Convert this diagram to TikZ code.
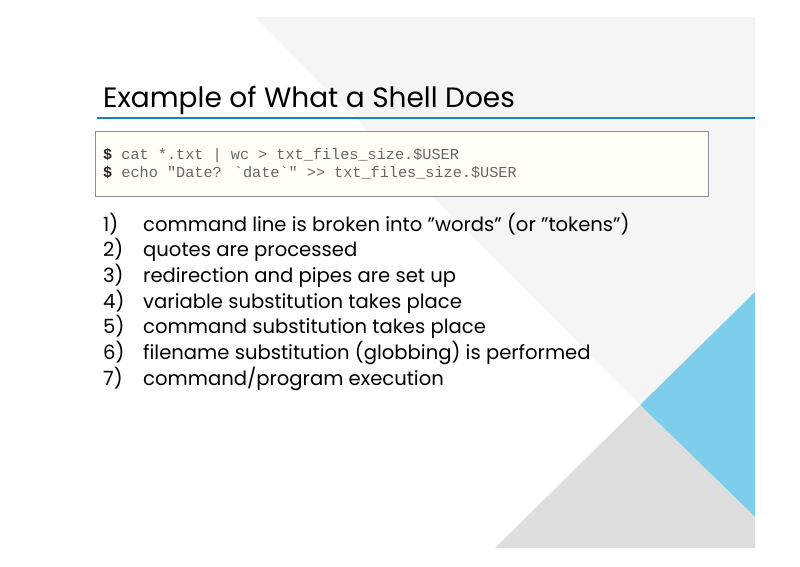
\documentclass[tikz,border=0pt]{standalone}
\usepackage{fontspec}
\setmainfont{Poppins}
\newfontfamily\codefont{Liberation Mono}
\definecolor{lineblue}{RGB}{20,130,190}
\definecolor{triblue}{RGB}{125,206,235}
\definecolor{codebg}{RGB}{255,255,248}
\newcommand{\dq}{\symbol{34}}
\begin{document}
\begin{tikzpicture}[x=1pt,y=-1pt,
  item/.style={anchor=base west,inner sep=0pt,font=\fontsize{19.6}{21}\selectfont},
  code/.style={anchor=base west,inner sep=0pt,font=\codefont\fontsize{15.2}{17}\selectfont,text=black!60}]
\useasboundingbox (0,0) rectangle (800,566);
\fill[white] (0,0) rectangle (800,566);
\fill[black!4] (255,17) -- (755,17) -- (755,292) -- (640,405) -- cycle;
\fill[triblue] (755,292) -- (640,405) -- (755,517) -- cycle;
\fill[black!13] (495,548) -- (640,405) -- (755,517) -- (755,548) -- cycle;
\draw[line width=2.2pt,lineblue] (97,118) -- (755,118);
\node[anchor=base west,inner sep=0pt,font=\fontsize{28}{31}\selectfont] (title) at (103,107) {Example of What a Shell Does};
\node[draw=black!45,fill=codebg,minimum width=613pt,minimum height=65pt,anchor=north west,inner sep=0pt] (box) at (95,131) {};
\node[code] (c1) at (103,159) {\textbf{\textcolor{black!85}{\$}} cat *.txt | wc > txt\_files\_size.\$USER};
\node[code] (c2) at (103,177) {\textbf{\textcolor{black!85}{\$}} echo \dq Date? `date`\dq{} >> txt\_files\_size.\$USER};
\foreach \n/\t [count=\i] in {1/{command line is broken into \dq words\dq{} (or \dq tokens\dq)},2/{quotes are processed},3/{redirection and pipes are set up},4/{variable substitution takes place},5/{command substitution takes place},6/{filename substitution (globbing) is performed},7/{command/program execution}}{
  \node[item] (n\i) at (103,{231+25.7*(\i-1)}) {\n)};
  \node[item] (t\i) at (143,{231+25.7*(\i-1)}) {\t};
}
\end{tikzpicture}
\end{document}
